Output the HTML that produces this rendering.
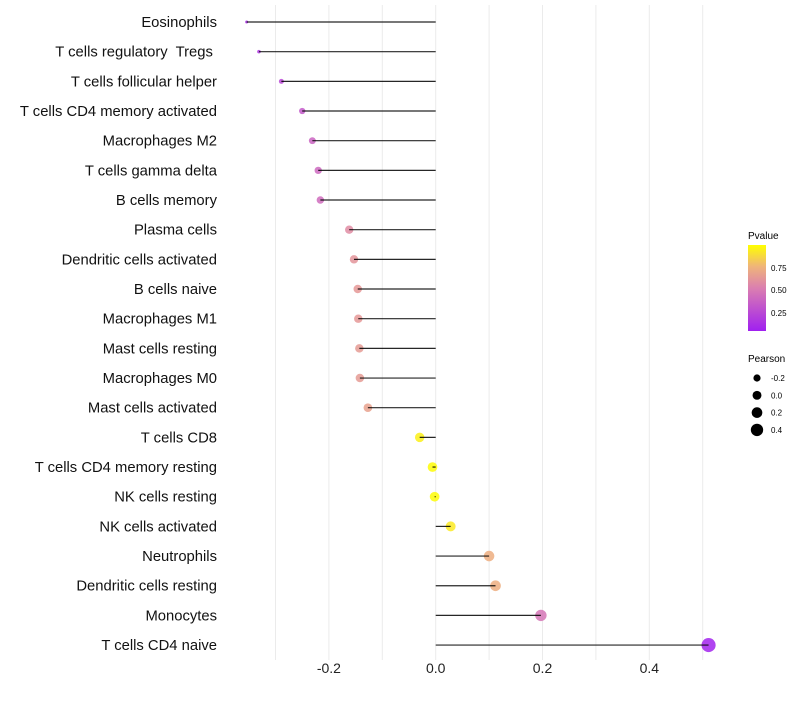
<!DOCTYPE html>
<html><head><meta charset="utf-8"><style>
body{margin:0;background:#fff;font-family:"Liberation Sans",sans-serif}
svg text{font-family:"Liberation Sans",sans-serif;white-space:pre}
</style></head><body>
<svg id="chart" width="800" height="700" viewBox="0 0 800 700">
<defs><linearGradient id="pg" x1="0" y1="1" x2="0" y2="0">
<stop offset="0" stop-color="#A020F0"/><stop offset="0.5" stop-color="#DB7FB0"/><stop offset="0.75" stop-color="#EFB47A"/><stop offset="1" stop-color="#FFFF00"/></linearGradient></defs>
<g id="grid"></g>
<g id="marks"></g>
<g id="ylab"></g>
<g id="xlab"></g>
<g>
<text x="748" y="239" font-size="10">Pvalue</text>
<rect x="748" y="245" width="18" height="86" fill="url(#pg)"/>
<text x="771" y="271" font-size="8">0.75</text>
<text x="771" y="293" font-size="8">0.50</text>
<text x="771" y="316" font-size="8">0.25</text>
</g>
<g id="sizeleg">
<text x="748" y="362" font-size="10">Pearson</text>
</g>
</svg>
<script>
const categories=["Eosinophils","T cells regulatory  Tregs ","T cells follicular helper","T cells CD4 memory activated","Macrophages M2","T cells gamma delta","B cells memory","Plasma cells","Dendritic cells activated","B cells naive","Macrophages M1","Mast cells resting","Macrophages M0","Mast cells activated","T cells CD8","T cells CD4 memory resting","NK cells resting","NK cells activated","Neutrophils","Dendritic cells resting","Monocytes","T cells CD4 naive"];
const pearson=[-0.354,-0.331,-0.289,-0.250,-0.231,-0.220,-0.216,-0.162,-0.153,-0.146,-0.145,-0.143,-0.142,-0.127,-0.030,-0.006,-0.002,0.028,0.100,0.112,0.197,0.511];
const pvalue=[0.08,0.12,0.2,0.3,0.36,0.38,0.4,0.56,0.6,0.62,0.62,0.63,0.63,0.66,0.95,0.99,0.99,0.93,0.72,0.72,0.45,0.02];
const xTicks=[-0.2,0.0,0.2,0.4];
const xGrid=[-0.3,-0.2,-0.1,0,0.1,0.2,0.3,0.4,0.5];
const sizeLegend=[-0.2,0.0,0.2,0.4];
const NS="http://www.w3.org/2000/svg";
const X=v=>435.7+v*534;
const Y=i=>22+i*29.67;
const R=v=>v>=-0.2?4+(v+0.2)*4.3:Math.max(1.5,4-(-0.2-v)*16.9);
function col(p){const st=[[0,[160,32,240]],[0.5,[219,127,176]],[0.75,[239,180,122]],[1,[255,255,0]]];
for(let k=1;k<st.length;k++){if(p<=st[k][0]){const a=st[k-1],b=st[k],t=(p-a[0])/(b[0]-a[0]);return "rgb("+a[1].map((c,j)=>Math.round(c+(b[1][j]-c)*t)).join(",")+")";}}return "rgb(255,255,0)";}
function mk(t,a,p){const e=document.createElementNS(NS,t);for(const k in a)e.setAttribute(k,a[k]);p.appendChild(e);return e;}
const grid=document.getElementById('grid'),marks=document.getElementById('marks'),yl=document.getElementById('ylab'),xl=document.getElementById('xlab');
xGrid.forEach(v=>{const l=mk('line',{x1:X(v),x2:X(v),y1:5,y2:660,stroke:'#ebebeb','stroke-width':1},grid);

});
xTicks.forEach(v=>{const t=mk('text',{x:X(v),y:673,'font-size':14,'text-anchor':'middle',fill:'#222'},xl);t.textContent=v.toFixed(1);

});
categories.forEach((c,i)=>{const y=Y(i);
const t=mk('text',{x:217,y:y+5,'font-size':14.8,'text-anchor':'end',fill:'#111'},yl);t.textContent=c;


const d=mk('circle',{cx:X(pearson[i]),cy:y,r:R(pearson[i]),fill:col(pvalue[i]),'fill-opacity':0.85},marks);


const l=mk('line',{x1:X(0),x2:X(pearson[i]),y1:y,y2:y,stroke:'#000','stroke-width':1.2,'stroke-opacity':0.85},marks);

});
const sl=document.getElementById('sizeleg');
sizeLegend.forEach((v,i)=>{const y=378+i*17.3;
const c=mk('circle',{cx:757,cy:y,r:R(v)-0.4},sl);


const t=mk('text',{x:771,y:y+3,'font-size':8},sl);t.textContent=v.toFixed(1);

});
</script>
</body></html>
